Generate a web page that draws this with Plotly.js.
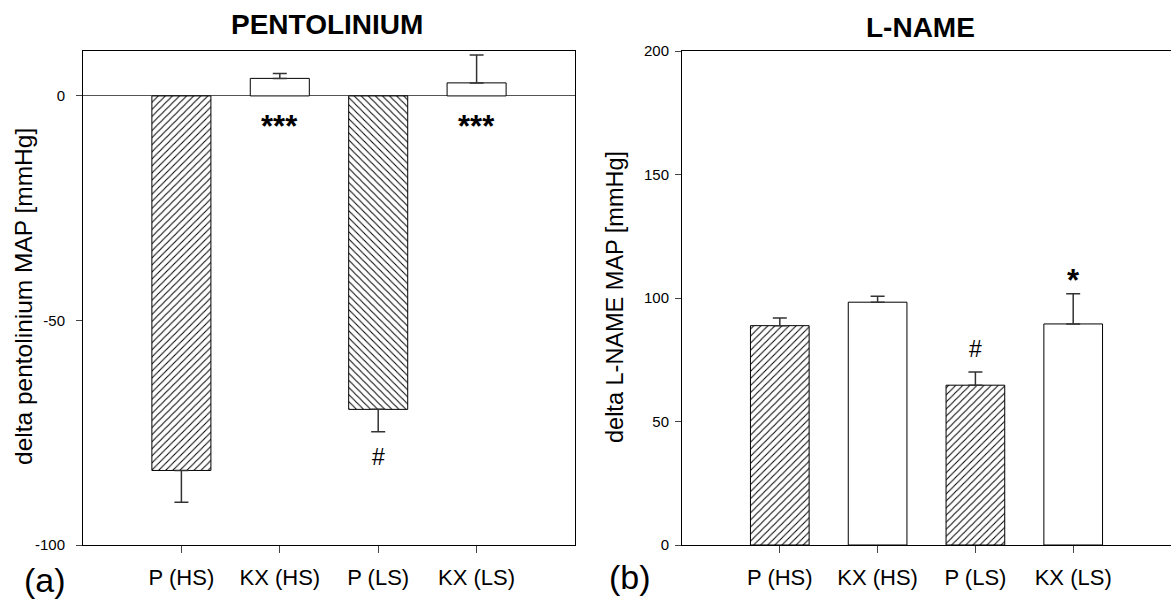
<!DOCTYPE html>
<html>
<head>
<meta charset="utf-8">
<script src="https://cdn.plot.ly/plotly-3.0.1.min.js"></script>
<style>html,body{margin:0;padding:0;background:#fff;}#chart{width:1171px;height:606px;}</style>
</head>
<body>
<div id="chart"></div>
<script>
// ---- data ----
const categories = ['P (HS)', 'KX (HS)', 'P (LS)', 'KX (LS)'];
const pentoMean = [-83.4, 3.9, -69.8, 2.9];
const pentoSem = [7.1, 1.1, 5.0, 6.2];
const pentoHatch = ['/', '', '\\', ''];
const pentoMarks = ['', '***', '#', '***'];
const lnameMean = [88.8, 98.3, 64.7, 89.5];
const lnameSem = [3.1, 2.4, 5.3, 12.2];
const lnameHatch = ['/', '', '/', ''];
const lnameMarks = ['', '', '#', '*'];
const pentoTicks = [-100, -50, 0];
const pentoTickText = ['-100', '-50', '0'];
const lnameTicks = [0, 50, 100, 150, 200];

// ---- style ----
const FONT = 'Liberation Sans, Arial, sans-serif';
const W = 1171, H = 606;
const px = v => v / W, py = v => 1 - v / H;

function barTrace(mean, sem, hatch, xa, ya) {
  return {
    type: 'bar', x: categories, y: mean, xaxis: xa, yaxis: ya, width: 0.6,
    marker: {
      color: '#ffffff',
      line: {color: '#000000', width: 1},
      pattern: {shape: hatch, fgcolor: '#000000', bgcolor: '#ffffff', size: 5, solidity: 0.2}
    },
    error_y: {
      type: 'data', symmetric: false,
      array: mean.map((m, i) => m >= 0 ? sem[i] : 0),
      arrayminus: mean.map((m, i) => m < 0 ? sem[i] : 0),
      color: '#333333', thickness: 1.5, width: 7
    },
    hoverinfo: 'skip', showlegend: false
  };
}

const data = [
  barTrace(pentoMean, pentoSem, pentoHatch, 'x', 'y'),
  barTrace(lnameMean, lnameSem, lnameHatch, 'x2', 'y2')
];

const annotations = [];
pentoMarks.forEach((t, i) => {
  if (!t) return;
  const base = Math.min(0, pentoMean[i] - (pentoMean[i] < 0 ? pentoSem[i] : 0));
  const isHash = t === '#';
  annotations.push({xref: 'x', yref: 'y', x: categories[i], y: base, text: isHash ? t : '<b>' + t + '</b>', showarrow: false,
    yanchor: 'top', yshift: isHash ? -10 : -11,
    font: {family: FONT, size: isHash ? 23 : 31, color: '#000'}});
});
lnameMarks.forEach((t, i) => {
  if (!t) return;
  const isHash = t === '#';
  annotations.push({xref: 'x2', yref: 'y2', x: categories[i], y: lnameMean[i] + lnameSem[i], text: isHash ? t : '<b>' + t + '</b>', showarrow: false,
    yanchor: 'bottom', yshift: isHash ? 8 : -6,
    font: {family: FONT, size: isHash ? 23 : 31, color: '#000'}});
});
annotations.push(
  {xref: 'paper', yref: 'paper', x: px(327), y: py(24), text: '<b>PENTOLINIUM</b>', showarrow: false,
   xanchor: 'center', yanchor: 'middle', font: {family: FONT, size: 28, color: '#000'}},
  {xref: 'paper', yref: 'paper', x: px(920), y: py(27), text: '<b>L-NAME</b>', showarrow: false,
   xanchor: 'center', yanchor: 'middle', font: {family: FONT, size: 28, color: '#000'}},
  {xref: 'paper', yref: 'paper', x: px(45), y: py(580), text: '(a)', showarrow: false,
   xanchor: 'center', yanchor: 'middle', font: {family: FONT, size: 34, color: '#000'}},
  {xref: 'paper', yref: 'paper', x: px(630), y: py(577), text: '(b)', showarrow: false,
   xanchor: 'center', yanchor: 'middle', font: {family: FONT, size: 34, color: '#000'}},
  {xref: 'paper', yref: 'paper', x: px(23), y: py(297), text: 'delta pentolinium MAP [mmHg]', showarrow: false,
   textangle: -90, xanchor: 'center', yanchor: 'middle', font: {family: FONT, size: 24.5, color: '#000'}},
  {xref: 'paper', yref: 'paper', x: px(615), y: py(297), text: 'delta L-NAME MAP [mmHg]', showarrow: false,
   textangle: -90, xanchor: 'center', yanchor: 'middle', font: {family: FONT, size: 23.5, color: '#000'}}
);

const xBase = {
  type: 'category', range: [-1, 4], showgrid: false, zeroline: false,
  showline: true, linecolor: '#000', linewidth: 1, mirror: true,
  ticks: 'outside', ticklen: 7, tickcolor: '#444', tickwidth: 1,
  tickfont: {family: FONT, size: 22, color: '#000'}, ticklabelstandoff: 6
};

const layout = {
  width: W, height: H, margin: {l: 0, r: 0, t: 0, b: 0},
  paper_bgcolor: '#fff', plot_bgcolor: '#fff', showlegend: false,
  xaxis: Object.assign({}, xBase, {domain: [px(83), px(575)], anchor: 'y'}),
  xaxis2: Object.assign({}, xBase, {domain: [px(682), 1], anchor: 'y2'}),
  yaxis: {
    domain: [py(545), py(51)], range: [-100, 10], anchor: 'x',
    tickvals: pentoTicks, ticktext: pentoTickText, showgrid: false,
    zeroline: true, zerolinecolor: '#555', zerolinewidth: 1,
    showline: true, linecolor: '#000', linewidth: 1, mirror: true,
    ticks: 'outside', ticklen: 6, tickcolor: '#444',
    tickfont: {family: FONT, size: 15, color: '#000'}, ticklabelstandoff: 8
  },
  yaxis2: {
    domain: [py(545), py(51)], range: [0, 200], anchor: 'x2',
    tickvals: lnameTicks, showgrid: false, zeroline: false,
    showline: true, linecolor: '#000', linewidth: 1, mirror: false,
    ticks: 'outside', ticklen: 6, tickcolor: '#444',
    tickfont: {family: FONT, size: 15, color: '#000'}, ticklabelstandoff: 3
  },
  annotations: annotations
};

Plotly.newPlot('chart', data, layout, {displayModeBar: false, staticPlot: true});
</script>
</body>
</html>
